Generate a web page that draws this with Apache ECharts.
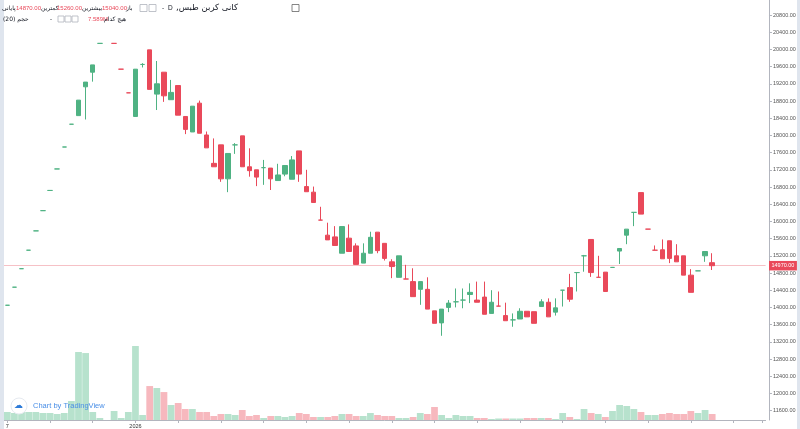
<!DOCTYPE html>
<html><head><meta charset="utf-8">
<script src="https://cdn.jsdelivr.net/npm/echarts@6/dist/echarts.min.js"></script>
<style>html,body{margin:0;padding:0;background:#fff}#c{width:800px;height:429px}</style>
</head><body><div id="c"></div>
<script>
// ---- data ----
const slotCount = 107;            // category slots on the time axis (last ones empty)
const labelSlots = [0, 18];
const labelTexts = ['7', '2026'];
const priceTicks = [11600,12000,12400,12800,13200,13600,14000,14400,14800,15200,15600,16000,16400,16800,17200,17600,18000,18400,18800,19200,19600,20000,20400,20800];
const opens = [14050,14470,14900,15330,15780,16250,16720,17220,17730,18260,
18460,19130,19470,20140,null,20140,19540,18990,18440,19650,
19990,18960,19470,18830,19160,18440,18080,18750,18010,17350,
17780,16990,17780,17990,17270,17200,17250,17240,16950,17100,
16980,17640,16810,16680,16030,15680,15640,15260,15610,15430,
15030,15260,15750,15490,15060,14700,14660,14600,14420,14420,
13920,13640,14000,14130,14170,14300,14170,14240,13860,14030,
13810,13710,13730,13910,13900,14020,14120,13890,14400,14460,
14810,15200,15580,14700,14820,14930,15310,15680,16210,16670,
15820,15330,15340,15550,15200,15200,14750,14850,15200,15040];
const highs = [14050,14470,14900,15330,15780,16250,16720,17220,17730,18260,
18820,19240,19640,20140,null,20140,19540,18990,19540,19680,
19990,19730,19470,19290,19160,18440,18680,18810,18090,17930,
17780,17580,17820,17990,17700,17200,17430,17240,17340,17300,
17520,17640,17200,16810,16340,15970,15890,15880,15930,15490,
15490,15760,15750,15490,15120,15200,14990,14910,14600,14700,
13920,13960,14170,14440,14440,14560,14600,14600,14400,14370,
14110,13860,13980,13910,13900,14190,14210,14210,14400,14780,
14810,15220,15580,15200,14820,14940,15370,15820,16210,16670,
15820,15440,15580,15550,15470,15200,14890,14850,15300,15260];
const lows = [14050,14470,14900,15330,15780,16250,16720,17220,17730,18260,
18460,18370,19250,20140,null,20140,19540,18990,18440,19580,
19070,18590,18780,18830,18470,18030,18080,18050,17710,17270,
16920,16680,17570,17270,17040,16820,16850,16730,16950,17050,
16980,16920,16690,16440,16030,15570,15440,15260,15300,15000,
15030,15260,15260,15090,14680,14700,14660,14250,14060,13960,
13630,13340,13890,14000,13980,14100,14120,13840,13860,14030,
13690,13550,13730,13780,13630,14020,13780,13810,14020,14130,
14370,14830,14710,14700,14370,14920,15010,15470,15890,16170,
15820,15330,15130,15030,15060,14750,14350,14850,15060,14870];
const closes = [14050,14470,14900,15330,15780,16250,16720,17220,17730,18260,
18820,19240,19640,20140,null,20140,19540,18990,19540,19650,
19070,19200,18920,19000,18470,18140,18680,18050,17710,17270,
16990,17580,17780,17270,17180,17030,17250,16990,17080,17300,
17430,17100,16690,16440,16030,15570,15440,15880,15300,15000,
15260,15630,15320,15140,14950,15200,14660,14250,14600,13960,
13630,13960,14100,14130,14170,14350,14120,13840,14120,14030,
13690,13710,13910,13780,13630,14130,13780,13990,14400,14190,
14810,15200,14810,14700,14370,14930,15370,15820,16210,16170,
15820,15330,15130,15140,15060,14750,14350,14850,15300,14970];
// volume in millions
const volumes = [10.1,8.9,10.1,10.1,10.1,8.9,8.9,7.6,8.9,24.1,
86.1,84.8,10.1,2.5,null,11.4,2.5,10.1,93.7,6.3,
43.0,40.5,35.4,19.0,21.5,13.9,13.9,10.1,10.1,5.1,
7.6,7.6,6.3,12.7,5.1,6.3,2.5,5.1,5.1,3.8,
5.1,8.9,7.6,3.8,3.8,3.8,5.1,7.6,7.6,5.1,
5.1,8.9,6.3,5.1,5.1,2.5,2.5,3.8,8.9,7.6,
16.5,6.3,2.5,6.3,5.1,5.1,2.5,2.5,1.3,1.9,
1.9,1.9,1.9,2.5,2.5,2.5,2.5,1.3,8.9,3.8,
1.3,13.9,8.9,7.6,3.8,11.4,19.0,17.7,13.9,10.1,
6.3,6.3,7.6,8.9,7.6,7.6,11.4,8.9,12.7,7.589];
const legendOHLC = {open: '15040.00', high: '15260.00', low: '14870.00', close: '14970.00'};
const legendVolume = '7.589M';

// ---- build ----
const UP = '#4fb283', DOWN = '#e9495a';
const UPV = 'rgba(83,185,135,0.42)', DOWNV = 'rgba(235,77,92,0.4)';
const cats = [];
for (let i = 0; i < slotCount; i++) {
  const k = labelSlots.indexOf(i);
  cats.push(k >= 0 ? labelTexts[k] : ' ' + i);
}
const candleData = opens.map((o, i) => o == null ? '-' : [o, closes[i], lows[i], highs[i]]);
const volData = volumes.map((v, i) => v == null ? '-' : {
  value: v, itemStyle: {color: closes[i] >= opens[i] ? UPV : DOWNV}
});
const lastClose = closes[closes.length - 1];

const pxPerUnit = 0.043;
const gridH = 420;
const yMax = 20800 + 15 / pxPerUnit;
const yMin = yMax - gridH / pxPerUnit;

const FONT = 'Liberation Sans';
const chart = echarts.init(document.getElementById('c'), null, {renderer: 'canvas'});
const gridL = 3.74, gridR = 800 - (3.74 + 7.12 * slotCount);

function txt(text, x, y, color, size, family) {
  return {type: 'text', x: x, y: y, z: 100, silent: true,
    style: {text: text, fill: color, fontSize: size, fontFamily: family || FONT, textVerticalAlign: 'middle', verticalAlign: 'middle'}};
}
function box(x, y, s, stroke) {
  return {type: 'rect', z: 100, silent: true, shape: {x: x, y: y, width: s, height: s},
    style: {fill: '#fff', stroke: stroke || '#b0b4bc', lineWidth: 0.8}};
}
const DARK = '#131722', RED = '#e9495a';
const FA = 'DejaVu Sans';

chart.setOption({
  animation: false,
  backgroundColor: '#ffffff',
  grid: [
    {left: gridL, right: gridR, top: 0, bottom: 9},
    {left: gridL, right: gridR, top: 330, bottom: 9}
  ],
  xAxis: [
    {type: 'category', gridIndex: 0, data: cats, boundaryGap: true, show: false},
    {type: 'category', gridIndex: 1, data: cats, boundaryGap: true,
      axisLine: {show: true, lineStyle: {color: '#b2b5be', width: 1}},
      axisTick: {show: true, alignWithLabel: true, interval: 5, length: 3, lineStyle: {color: '#b2b5be'}},
      axisLabel: {interval: 0, fontSize: 5.5, color: '#333', margin: 3, fontFamily: FONT,
        formatter: v => (v.charAt(0) === ' ' ? '' : v)}}
  ],
  yAxis: [
    {type: 'value', gridIndex: 0, position: 'right', offset: 3.4, min: yMin, max: yMax, scale: true,
      splitLine: {show: false},
      axisLine: {show: true, lineStyle: {color: '#b2b5be'}},
      axisTick: {show: true, length: 3, customValues: priceTicks, lineStyle: {color: '#b2b5be'}},
      axisLabel: {customValues: priceTicks, fontSize: 5.5, color: '#555', margin: 4, fontFamily: FONT,
        formatter: v => Number(v).toFixed(2)}},
    {type: 'value', gridIndex: 1, min: 0, max: 114, show: false, splitLine: {show: false}}
  ],
  series: [
    {type: 'bar', xAxisIndex: 1, yAxisIndex: 1, data: volData, barWidth: '95%', z: 1, silent: true},
    {type: 'candlestick', xAxisIndex: 0, yAxisIndex: 0, data: candleData, barWidth: 5, z: 5,
      itemStyle: {color: UP, color0: DOWN, borderColor: UP, borderColor0: DOWN, borderWidth: 1},
      markLine: {silent: true, symbol: 'none', animation: false,
        lineStyle: {color: '#f6c1c6', type: 'solid', width: 1},
        label: {show: true, position: 'end', distance: 3.4, formatter: p => Number(p.value).toFixed(2),
          backgroundColor: RED, color: '#fff', fontSize: 5.5, padding: [2, 2.5, 1.5, 2.5], fontFamily: FONT},
        data: [{yAxis: lastClose}]}}
  ],
  graphic: [
    {type: 'rect', shape: {x: 0, y: 0, width: 4, height: 429}, style: {fill: '#dfe5ee'}, z: 50},
    {type: 'rect', shape: {x: 797, y: 0, width: 3, height: 429}, style: {fill: '#dfe5ee'}, z: 50},
    // legend line 1
    txt('پایانی', 2, 8, DARK, 6, FA),
    txt(legendOHLC.low, 16, 8, RED, 6),
    txt('کمترین', 41, 8, DARK, 6, FA),
    txt(legendOHLC.high, 57, 8, RED, 6),
    txt('بیشترین', 82, 8, DARK, 6, FA),
    txt(legendOHLC.open, 102, 8, RED, 6),
    txt('باز', 126, 8, DARK, 6, FA),
    box(140, 4.5, 7), box(149, 4.5, 7),
    txt('-', 162, 8, DARK, 6.5),
    txt('D', 168, 8, DARK, 6.5),
    txt(',کانی کربن طبس', 176, 8, DARK, 8.5, FA),
    box(292, 4.5, 7, '#666'),
    // legend line 2
    txt('(20) حجم', 3, 19, DARK, 6, FA),
    txt('-', 50, 19, DARK, 6),
    box(58, 16, 6), box(65, 16, 6), box(72, 16, 6),
    txt(legendVolume, 88, 19, RED, 6),
    txt('هیچ کدام', 104, 19, DARK, 6, FA),
    // watermark
    {type: 'circle', shape: {cx: 19, cy: 406, r: 8}, style: {fill: '#ffffff', stroke: '#e6eaf0', lineWidth: 1}, z: 100},
    txt('☁', 14, 406, '#2e7bd8', 9, 'DejaVu Sans'),
    txt('Chart by TradingView', 33, 406, '#4a8fe7', 7.5, FONT)
  ]
});
</script></body></html>
